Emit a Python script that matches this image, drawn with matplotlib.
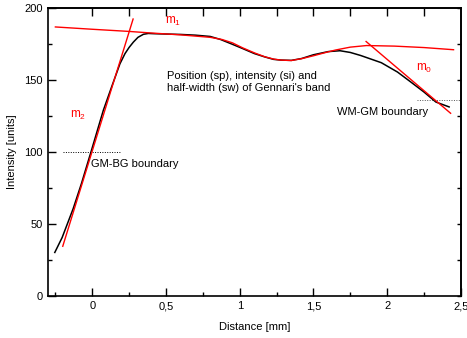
"""Intensity profile across the cortex with Gennari's band fit."""

import matplotlib

matplotlib.use("Agg")
import matplotlib.pyplot as plt
from matplotlib.ticker import FixedLocator, MultipleLocator

plt.rcParams["font.family"] = ["Liberation Sans", "DejaVu Sans"]
plt.rcParams["mathtext.default"] = "regular"

# measured profile (black)
profile_x = [-0.254, -0.204, -0.129, -0.073, -0.005, 0.075, 0.131, 0.188, 0.222,
             0.25, 0.279, 0.31, 0.347, 0.38, 0.426, 0.6, 0.7, 0.8, 0.87, 0.94,
             1.02, 1.1, 1.17, 1.23, 1.28, 1.35, 1.42, 1.5, 1.6, 1.68, 1.75,
             1.82, 1.96, 2.07, 2.16, 2.25, 2.33, 2.42]
profile_y = [30, 40.4, 60.5, 77.9, 101, 128.6, 144.8, 161, 168, 172.3, 176,
             179.3, 181.4, 182.0, 181.8, 181.3, 180.8, 179.9, 177.8, 174.9,
             171.5, 168, 165.7, 164, 163.5, 163.3, 164.6, 167.2, 169.4, 170.0,
             168.8, 166.7, 161.7, 155.2, 148.3, 141.3, 134.4, 131]

# band fit (red, m1)
fit_x = [-0.25, 0.0, 0.25, 0.4, 0.6, 0.8, 0.88, 0.95, 1.02, 1.1, 1.17, 1.23,
         1.28, 1.35, 1.42, 1.5, 1.58, 1.65, 1.75, 1.86, 2.05, 2.25, 2.45]
fit_y = [186.5, 184.9, 183.4, 182.3, 181.0, 179.3, 177.8, 175.5, 172.0, 168.5,
         165.8, 164.2, 163.5, 163.2, 164.5, 166.5, 168.7, 170.5, 172.5, 173.6,
         173.2, 172.2, 170.7]

# slope lines
m2_x = [-0.20, 0.277]
m2_y = [34.3, 192.0]
m0_x = [1.857, 2.43]
m0_y = [176.4, 126.6]

# boundary levels
gm_bg_x = [-0.2, 0.19]
gm_bg_y = [100, 100]
wm_gm_x = [2.2, 2.5]
wm_gm_y = [135.5, 135.5]

x_ticks = [0, 0.5, 1, 1.5, 2, 2.5]
x_tick_labels = ["0", "0,5", "1", "1,5", "2", "2,5"]
y_ticks = [0, 50, 100, 150, 200]

fig = plt.figure(figsize=(4.67, 3.38), dpi=100)
ax = fig.add_axes([0.1028, 0.1252, 0.8842, 0.8526])

ax.plot(profile_x, profile_y, color="black", linewidth=1.1, zorder=2)
ax.plot(fit_x, fit_y, color="#ff0000", linewidth=1.0, zorder=3)
ax.plot(m2_x, m2_y, color="#ff0000", linewidth=1.0, zorder=3)
ax.plot(m0_x, m0_y, color="#ff0000", linewidth=1.0, zorder=3)
ax.plot(gm_bg_x, gm_bg_y, color="black", linestyle=(0, (1, 1.5)), linewidth=0.7)
ax.plot(wm_gm_x, wm_gm_y, color="#555555", linestyle=(0, (1, 1.5)), linewidth=0.7)

ax.text(0.55, 190, "$m_1$", color="#ff0000", fontsize=8.5, ha="center", va="center")
ax.text(-0.095, 125, "$m_2$", color="#ff0000", fontsize=8.5, ha="center", va="center")
ax.text(2.25, 158, "$m_0$", color="#ff0000", fontsize=8.5, ha="center", va="center")
ax.text(0.51, 148.2, "Position (sp), intensity (si) and\nhalf-width (sw) of Gennari's band",
        fontsize=8, ha="left", va="center", linespacing=1.3)
ax.text(-0.007, 91.2, "GM-BG boundary", fontsize=8, ha="left", va="center")
ax.text(1.66, 127.5, "WM-GM boundary", fontsize=8, ha="left", va="center")

ax.set_xlim(-0.3, 2.5)
ax.set_ylim(0, 200)
ax.set_xticks(x_ticks, x_tick_labels)
ax.set_yticks(y_ticks)
ax.xaxis.set_minor_locator(MultipleLocator(0.25))
ax.yaxis.set_minor_locator(MultipleLocator(25))
ax.tick_params(which="major", direction="in", length=5.5, width=1.0,
               labelsize=8, pad=4, top=False, right=False)
ax.tick_params(which="minor", direction="in", length=3.0, width=1.0,
               top=False, right=False)

top = ax.secondary_xaxis("top")
top.xaxis.set_major_locator(FixedLocator([0, 0.25, 0.5, 0.75, 1, 1.25, 1.5,
                                          1.75, 2, 2.25]))
top.tick_params(direction="in", length=5.5, width=1.0, labeltop=False)
right = ax.secondary_yaxis("right")
right.yaxis.set_major_locator(MultipleLocator(25))
right.tick_params(direction="in", length=3.0, width=1.0, labelright=False)

for sec in (top, right):
    for spine in sec.spines.values():
        spine.set_linewidth(1.2)
for spine in ax.spines.values():
    spine.set_linewidth(1.2)

ax.set_xlabel("Distance [mm]", fontsize=8, labelpad=8)
ax.set_ylabel("Intensity [units]", fontsize=8, labelpad=5)

fig.savefig("out.png", dpi=100, facecolor="white")
